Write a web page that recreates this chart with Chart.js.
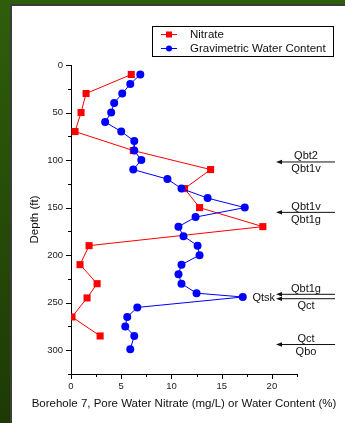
<!DOCTYPE html>
<html>
<head>
<meta charset="utf-8">
<script src="https://cdn.jsdelivr.net/npm/chart.js@4.4.1/dist/chart.umd.min.js"></script>
<style>
  html, body { margin: 0; padding: 0; background: #2b5608; }
  canvas { display: block; }
</style>
</head>
<body>
<canvas id="myChart" width="345" height="423"></canvas>
<script>
// Borehole 7 profile data (depth in ft)
const nitrateDepth = [10, 30, 50, 70, 90, 110, 130, 150, 170, 190, 210, 230, 245, 265, 285];
const nitrate = [6.0, 1.5, 1.0, 0.4, 6.2, 13.9, 11.3, 12.8, 19.1, 1.8, 0.9, 2.6, 1.6, 0.1, 2.9];

const waterDepth = [10, 20, 30, 40, 50, 60, 70, 80, 90, 100, 110, 120, 130, 140, 150,
  160, 170, 180, 190, 200, 210, 220, 230, 240, 244, 255, 265, 275, 285, 299];
const water = [6.9, 5.9, 5.1, 4.3, 4.0, 3.4, 5.0, 6.3, 6.3, 7.0, 6.2, 9.6, 11.0, 13.6, 17.3,
  12.4, 10.7, 11.2, 12.6, 12.8, 11.0, 10.7, 11.0, 12.5, 17.1, 6.6, 5.6, 5.4, 6.3, 5.9];

// geologic contacts marked on the right
const contactDepth = [102, 155, 243.5, 294];
const contactAbove = ['Qbt2', 'Qbt1v', 'Qbt1g', 'Qct'];
const contactBelow = ['Qbt1v', 'Qbt1g', 'Qct', 'Qbo'];
const contactUnit = ['', '', 'Qtsk', ''];

const xTitle = 'Borehole 7, Pore Water Nitrate (mg/L) or Water Content (%)';

const FONT = "'Liberation Sans', Arial, sans-serif";

const bgPlugin = {
  id: 'bg',
  beforeDraw(chart) {
    const c = chart.ctx;
    c.save();
    const g = c.createLinearGradient(0, 0, 0, chart.height);
    g.addColorStop(0, '#2f5e0b');
    g.addColorStop(1, '#1d3a05');
    c.fillStyle = g;
    c.fillRect(0, 0, chart.width, chart.height);
    c.fillStyle = '#3c3c3c';
    c.fillRect(10, 4, chart.width - 10, chart.height - 4);
    c.fillStyle = '#ffffff';
    c.fillRect(12, 6, chart.width - 12, chart.height - 6);
    c.restore();
  }
};

// major / minor tick marks drawn outward from the axes, plus the x title
const tickPlugin = {
  id: 'tickMarks',
  afterDraw(chart) {
    const c = chart.ctx;
    const x = chart.scales.x, y = chart.scales.y;
    c.save();
    c.strokeStyle = '#000';
    c.lineWidth = 1;
    c.beginPath();
    x.ticks.forEach(t => {
      const px = Math.round(x.getPixelForValue(t.value)) + 0.5;
      const len = t.value % 5 === 0 ? 5 : 3;
      c.moveTo(px, Math.round(x.top));
      c.lineTo(px, Math.round(x.top) + len);
    });
    y.ticks.forEach(t => {
      const py = Math.round(y.getPixelForValue(t.value)) + 0.5;
      const len = t.value % 50 === 0 ? 5 : 3;
      c.moveTo(Math.round(y.right), py);
      c.lineTo(Math.round(y.right) - len, py);
    });
    c.stroke();

    c.fillStyle = '#111';
    c.font = '11.5px ' + FONT;
    c.textAlign = 'center';
    c.textBaseline = 'middle';
    c.fillText(xTitle, (x.left + x.right) / 2, 404);
    c.restore();
  }
};

const legendPlugin = {
  id: 'boxLegend',
  afterDraw(chart) {
    const c = chart.ctx;
    c.save();
    c.fillStyle = '#fff';
    c.fillRect(152.5, 26.5, 181, 30);
    c.strokeStyle = '#000';
    c.lineWidth = 1;
    c.strokeRect(152.5, 26.5, 181, 30);
    chart.data.datasets.forEach((ds, i) => {
      const ly = 34 + i * 14;
      c.strokeStyle = ds.borderColor;
      c.beginPath();
      c.moveTo(161, ly + 0.5);
      c.lineTo(177, ly + 0.5);
      c.stroke();
      c.fillStyle = ds.backgroundColor;
      if (ds.pointStyle === 'rect') {
        c.fillRect(166, ly - 2.5, 6, 6);
      } else {
        c.beginPath();
        c.arc(169, ly + 0.5, 3, 0, Math.PI * 2);
        c.fill();
      }
      c.fillStyle = '#111';
      c.font = '11.5px ' + FONT;
      c.textBaseline = 'middle';
      c.textAlign = 'left';
      c.fillText(ds.label, 190, ly + 1);
    });
    c.restore();
  }
};

const contactPlugin = {
  id: 'contacts',
  afterDraw(chart) {
    const c = chart.ctx;
    const y = chart.scales.y;
    const x0 = 276, x1 = 335, cx = 306;
    c.save();
    c.font = '11px ' + FONT;
    c.textAlign = 'center';
    c.textBaseline = 'alphabetic';
    contactDepth.forEach((d, i) => {
      const py = y.getPixelForValue(d);
      const lines = contactUnit[i] ? [py - 2.2, py + 2.2] : [py];
      c.strokeStyle = '#111';
      c.fillStyle = '#111';
      c.lineWidth = 1;
      lines.forEach(ly => {
        c.beginPath();
        c.moveTo(x0 + 4, ly);
        c.lineTo(x1, ly);
        c.stroke();
        c.beginPath();
        c.moveTo(x0, ly);
        c.lineTo(x0 + 6, ly - 2.2);
        c.lineTo(x0 + 6, ly + 2.2);
        c.closePath();
        c.fill();
      });
      c.fillStyle = '#111';
      c.textAlign = 'center';
      c.fillText(contactAbove[i], cx, lines[0] - 2.5);
      c.fillText(contactBelow[i], cx, lines[lines.length - 1] + 10.5);
      if (contactUnit[i]) {
        c.textAlign = 'right';
        c.fillText(contactUnit[i], x0 - 1, py + 4);
      }
    });
    c.restore();
  }
};

const ctx = document.getElementById('myChart').getContext('2d');
new Chart(ctx, {
  type: 'scatter',
  data: {
    datasets: [
      {
        label: 'Nitrate',
        data: nitrateDepth.map((d, i) => ({ x: nitrate[i], y: d })),
        showLine: true,
        borderColor: '#ff0000',
        backgroundColor: '#ff0000',
        borderWidth: 1,
        pointStyle: 'rect',
        pointRadius: 5,
        pointBorderWidth: 0,
        order: 1
      },
      {
        label: 'Gravimetric Water Content',
        data: waterDepth.map((d, i) => ({ x: water[i], y: d })),
        showLine: true,
        borderColor: '#0000ff',
        backgroundColor: '#0000ff',
        borderWidth: 1,
        pointStyle: 'circle',
        pointRadius: 4,
        pointBorderWidth: 0,
        order: 0
      }
    ]
  },
  options: {
    responsive: false,
    animation: false,
    devicePixelRatio: 1,
    layout: { padding: { left: 0, top: 65, right: 48, bottom: 0 } },
    plugins: { legend: { display: false }, tooltip: { enabled: false } },
    scales: {
      x: {
        type: 'linear',
        min: 0,
        max: 22.5,
        ticks: {
          stepSize: 2.5,
          autoSkip: false,
          maxRotation: 0,
          padding: 7,
          color: '#222',
          font: { family: FONT, size: 9.5 },
          callback: v => (v % 5 === 0 ? v : '')
        },
        grid: { display: false, drawTicks: false },
        border: { display: true, color: '#000', width: 1 },
        title: { display: false },
        afterFit: s => { s.height = 49; }
      },
      y: {
        type: 'linear',
        reverse: true,
        min: 0,
        max: 325,
        ticks: {
          stepSize: 25,
          autoSkip: false,
          padding: 8,
          color: '#222',
          font: { family: FONT, size: 9.5 },
          callback: v => (v % 50 === 0 ? v : '')
        },
        grid: { display: false, drawTicks: false },
        border: { display: true, color: '#000', width: 1 },
        title: {
          display: true,
          text: 'Depth (ft)',
          color: '#111',
          font: { family: FONT, size: 11.5 },
          padding: { top: 28, bottom: 0 }
        },
        afterFit: s => { s.width = 71; }
      }
    }
  },
  plugins: [bgPlugin, tickPlugin, legendPlugin, contactPlugin]
});
</script>
</body>
</html>
